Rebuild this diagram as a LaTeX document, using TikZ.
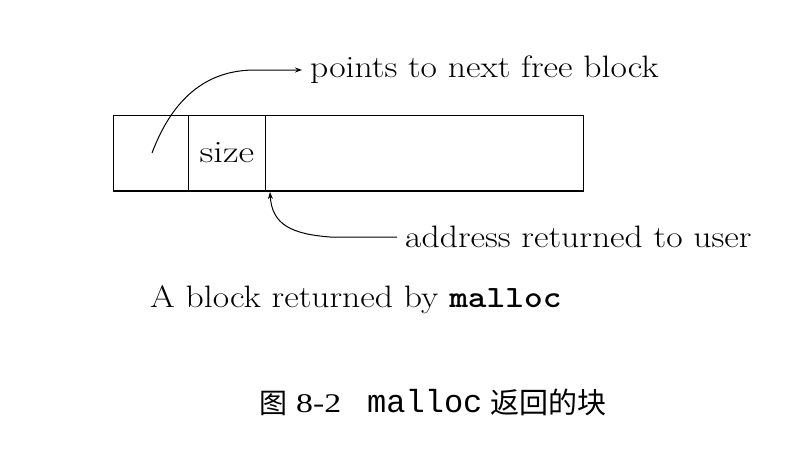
\documentclass[tikz,border=0pt]{standalone}
\usepackage{fontspec}
\newfontfamily\cjk{Noto Sans CJK SC}
\newfontfamily\capserif{Liberation Serif}
\newfontfamily\capmono{Liberation Mono}
\usetikzlibrary{arrows.meta}
\newcommand{\wide}[1]{\scalebox{1.15}[1]{#1}}
\begin{document}
\begin{tikzpicture}[x=1pt,y=-1pt,
  cell/.style={draw,line width=1pt,inner sep=0pt,anchor=north west,minimum height=75pt},
  lbl/.style={inner sep=0pt,font=\fontsize{31}{36}\selectfont},
  capt/.style={inner sep=0pt,anchor=base west},
  conn/.style={line width=1pt,-{Stealth[length=7pt,width=5pt]}}]
\useasboundingbox (0,0) rectangle (801,455);
\node[cell,minimum width=75pt] (cA) at (113,115) {};
\node[cell,minimum width=77pt] (cB) at (188,115) {};
\node[cell,minimum width=318pt] (cC) at (265,115) {};
\draw[line width=2pt] (cA.south west) -- (cC.south east);
\node[lbl] (sz) at (cB.center) {\scalebox{1.24}[1]{size}};
\node[lbl,anchor=west] (t1) at (310,70) {\wide{points to next free block}};
\node[lbl,anchor=west] (t2) at (405,237) {\wide{address returned to user}};
\coordinate (p1) at (152,153);
\coordinate (tip2) at (270,192);
\draw[conn] (p1) .. controls (172,100) and (205,70) .. (255,70) -- ([xshift=-8pt]t1.west);
\draw[conn] ([xshift=-8pt]t2.west) -- (330,237) .. controls (292,234) and (272,225) .. (tip2);
\node[lbl,anchor=west] (cap1) at (150,300) {\wide{A block returned by {\ttfamily\bfseries malloc}}};
\node[capt,font=\cjk\fontsize{28}{32}\selectfont] (c2a) at (259,413) {图};
\node[capt,font=\capserif\fontsize{27}{32}\selectfont] (c2b) at (296,412) {\scalebox{1.25}[1]{8-2}};
\node[capt,font=\capmono\fontsize{32}{36}\selectfont] (c2c) at (367,412) {malloc};
\node[capt,font=\cjk\fontsize{29}{32}\selectfont] (c2d) at (490,413) {返回的块};
\end{tikzpicture}
\end{document}
